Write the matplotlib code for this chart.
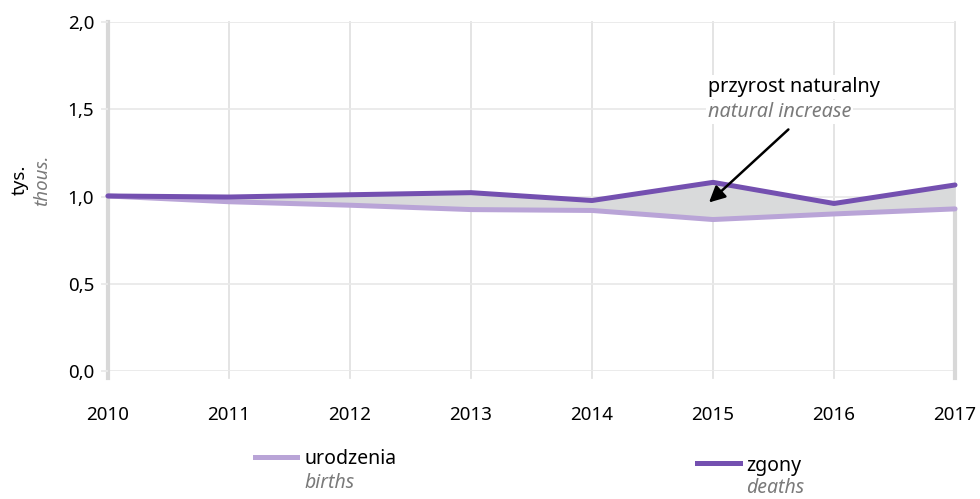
import matplotlib.pyplot as plt

years = [2010, 2011, 2012, 2013, 2014, 2015, 2016, 2017]
births = [1.003, 0.970, 0.950, 0.925, 0.920, 0.868, 0.900, 0.929]
deaths = [1.003, 0.997, 1.010, 1.022, 0.977, 1.081, 0.960, 1.066]
yticks = [0.0, 0.5, 1.0, 1.5, 2.0]

births_col = "#b9a4d7"
deaths_col = "#7450b0"
grid_col = "#e2e2e2"
hgrid_col = "#e9e9e9"
gray_txt = "#7a7a7a"

plt.rcParams['font.family'] = ['Noto Sans', 'DejaVu Sans']

fig = plt.figure(figsize=(9.8, 4.99), dpi=100)
ax = fig.add_axes([108/980, 1-371/499, (955-108)/980, (371-22)/499])
ax.set_xlim(2010, 2017)
ax.set_ylim(0, 2.0)

for s in ax.spines.values():
    s.set_visible(False)
for y in years:
    ax.plot([y, y], [-0.04, 2.0], color=grid_col, lw=1.3, zorder=0, clip_on=False)
for v in yticks:
    ax.axhline(v, color=hgrid_col, lw=1.3, zorder=0)

# left axis and right edge of the area
ax.plot([years[0], years[0]], [-0.04, 2.0], color="#d8d8d8", lw=3, zorder=1, clip_on=False)
ax.plot([years[-1], years[-1]], [-0.04, births[-1]], color="#d8d8d8", lw=3, zorder=1, clip_on=False)

ax.fill_between(years, births, deaths, color="#d9dadb", zorder=2, lw=0)
ax.plot(years, births, color=births_col, lw=3.6, solid_capstyle='round', zorder=3, clip_on=False)
ax.plot(years, deaths, color=deaths_col, lw=3.6, solid_capstyle='round', zorder=4, clip_on=False)

ax.set_yticks(yticks)
ax.set_yticklabels([f"{v:.1f}".replace(".", ",") for v in yticks], fontsize=13.5)
ax.set_xticks(years)
ax.set_xticklabels([str(y) for y in years], fontsize=13.5)
ax.tick_params(axis='y', length=5, color=hgrid_col, width=1.3, pad=5)
ax.tick_params(axis='x', length=0, pad=25)

fig.text(20/980, 1-180/499, "tys.", rotation=90, fontsize=13.5, ha='center', va='center')
fig.text(42/980, 1-180/499, "thous.", rotation=90, fontsize=13.5, ha='center', va='center',
         style='italic', color=gray_txt)

ax.annotate("", xy=(2014.95, 0.955), xytext=(2015.64, 1.395),
            arrowprops=dict(arrowstyle='-|>', color='black', lw=1.8, mutation_scale=24), zorder=5)
wbox = dict(facecolor='white', edgecolor='none', pad=1.5)
fig.text(708/980, 1-87/499, "przyrost naturalny", fontsize=14.3, va='center', bbox=wbox)
fig.text(708/980, 1-112/499, "natural increase", fontsize=14.3, va='center', style='italic',
         color=gray_txt, bbox=wbox)

fig.add_artist(plt.Line2D([255/980, 297/980], [1-457/499]*2, color=births_col, lw=3.6))
fig.text(304/980, 1-459/499, "urodzenia", fontsize=14, va='center')
fig.text(304/980, 1-483/499, "births", fontsize=14, va='center', style='italic', color=gray_txt)
fig.add_artist(plt.Line2D([697/980, 740/980], [1-463/499]*2, color=deaths_col, lw=3.6))
fig.text(746/980, 1-466/499, "zgony", fontsize=14, va='center')
fig.text(746/980, 1-488/499, "deaths", fontsize=14, va='center', style='italic', color=gray_txt)

fig.savefig("out.png", dpi=100)
